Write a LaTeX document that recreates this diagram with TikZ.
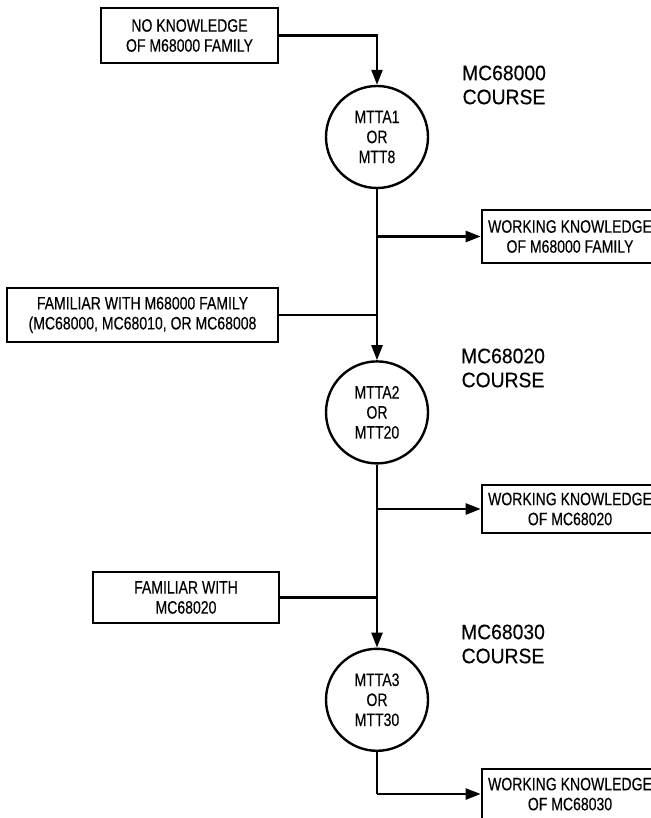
\documentclass[tikz,border=0pt]{standalone}
\usepackage{fontspec}
\setmainfont{Liberation Sans}[FakeStretch=0.78,FakeBold=0.3]
\newfontfamily\coursefont{Liberation Sans}[FakeStretch=0.92,FakeBold=0.3]
\usetikzlibrary{positioning}
\usetikzlibrary{arrows.meta}

\begin{document}
\begin{tikzpicture}[x=0.5pt,y=-0.5pt,
  line width=1.2pt,
  flow/.style={-{Triangle[length=7.5pt,width=5.5pt]}},
  infobox/.style={draw,line width=1.3pt,align=center,inner sep=0pt,
    font=\fontsize{9}{10}\selectfont},
  module/.style={draw,circle,minimum size=51pt,inner sep=0pt,align=center,
    font=\fontsize{9}{10}\selectfont},
  course/.style={align=center,inner sep=0pt,font=\coursefont\fontsize{10.5}{12}\selectfont}]
\useasboundingbox (0,0) rectangle (651,818);
\clip (0,0) rectangle (651,818);

\node (c1) [module] at (377,137) {MTTA1\\OR\\MTT8};
\node (c2) [module, below=85.5pt of c1] {MTTA2\\OR\\MTT20};
\node (c3) [module, below=91.5pt of c2] {MTTA3\\OR\\MTT30};

\node (nk) [infobox, minimum width=88.5pt, minimum height=27.5pt] at (189.5,35.5)
  {NO KNOWLEDGE\\OF M68000 FAMILY};
\node (fm) [infobox, minimum width=135.5pt, minimum height=27pt] at (142.5,315)
  {FAMILIAR WITH M68000 FAMILY\\(MC68000, MC68010, OR MC68008};
\node (fc) [infobox, minimum width=93pt, minimum height=25.5pt] at (186,597.5)
  {FAMILIAR WITH\\MC68020};

\node (wk1) [infobox, minimum width=88pt, minimum height=26.5pt] at (570,236.5)
  {WORKING KNOWLEDGE\\OF M68000 FAMILY};
\node (wk2) [infobox, minimum width=88pt, minimum height=24pt] at (570,509)
  {WORKING KNOWLEDGE\\OF MC68020};
\node (wk3) [infobox, minimum width=88pt, minimum height=35pt, text depth=10pt] at (570,804)
  {WORKING KNOWLEDGE\\OF MC68030};

\node (crs1) [course] at (504,85) {MC68000\\COURSE};
\node (crs2) [course] at (503,368) {MC68020\\COURSE};
\node (crs3) [course] at (503,644) {MC68030\\COURSE};

\coordinate (b1) at (377,236.5);
\coordinate (b2) at (377,509);
\coordinate (b3) at (377,794);

\draw[flow] (nk.east) -| (c1.north);
\draw[flow] (c1.south) -- (c2.north);
\draw (fm.east) -- (fm.east -| c2);
\draw[flow] (b1) -- (wk1.west);
\draw[flow] (c2.south) -- (c3.north);
\draw (fc.east) -- (fc.east -| c3);
\draw[flow] (b2) -- (wk2.west);
\draw (c3.south) -- (b3);
\draw[flow] (b3) -- (b3 -| wk3.west);
\end{tikzpicture}
\end{document}
